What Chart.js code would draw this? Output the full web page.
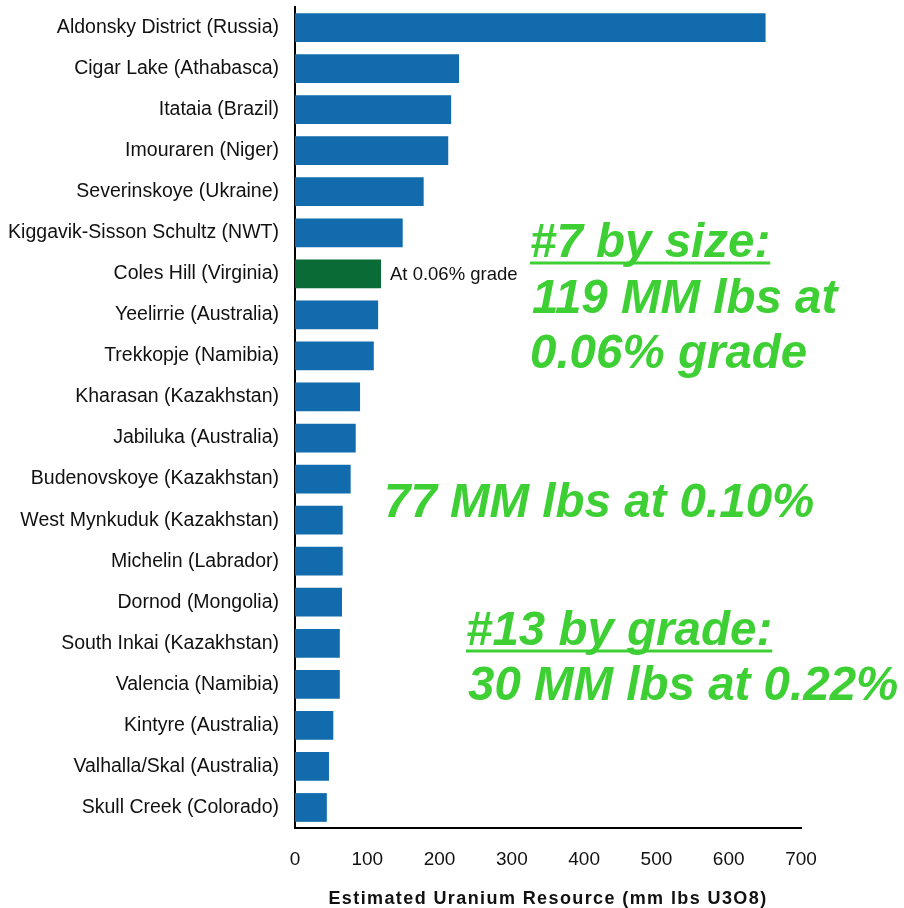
<!DOCTYPE html>
<html>
<head>
<meta charset="utf-8">
<script src="https://cdn.jsdelivr.net/npm/chart.js@4"></script>
<style>
  body { margin: 0; background: #fff; }
  #wrap { width: 904px; height: 908px; }
</style>
</head>
<body>
<div id="wrap"><canvas id="myChart" width="904" height="908"></canvas></div>
<script>
const ctx = document.getElementById('myChart');

// deposits, biggest first
let deposits = [
  "Aldonsky District (Russia)", "Cigar Lake (Athabasca)", "Itataia (Brazil)", "Imouraren (Niger)",
  "Severinskoye (Ukraine)", "Kiggavik-Sisson Schultz (NWT)", "Coles Hill (Virginia)", "Yeelirrie (Australia)",
  "Trekkopje (Namibia)", "Kharasan (Kazakhstan)", "Jabiluka (Australia)", "Budenovskoye (Kazakhstan)",
  "West Mynkuduk (Kazakhstan)", "Michelin (Labrador)", "Dornod (Mongolia)", "South Inkai (Kazakhstan)",
  "Valencia (Namibia)", "Kintyre (Australia)", "Valhalla/Skal (Australia)", "Skull Creek (Colorado)"
];
let resource = [651, 227, 216, 212, 178, 149, 119, 115, 109, 90, 84, 77, 66, 66, 65, 62, 62, 53, 47, 44];
let xTicks = [0, 100, 200, 300, 400, 500, 600, 700];
let highlight = "Coles Hill (Virginia)";
let barLabel = "At 0.06% grade";
let axisTitle = "Estimated Uranium Resource (mm lbs U3O8)";

const BLUE = '#116bac';
const GREEN_BAR = '#0b6b37';
const GREEN_TXT = '#3dcf34';

const barColors = deposits.map(d => d === highlight ? GREEN_BAR : BLUE);

// green call-outs on the right side
const notes = [
  { text: "#7 by size:", x: 530, y: 257, underline: true },
  { text: "119 MM lbs at", x: 532, y: 313 },
  { text: "0.06% grade", x: 530, y: 368 },
  { text: "77 MM lbs at 0.10%", x: 384, y: 517 },
  { text: "#13 by grade:", x: 466, y: 645, underline: true },
  { text: "30 MM lbs at 0.22%", x: 468, y: 700 }
];

const extras = {
  id: 'extras',
  afterDraw(chart) {
    const c = chart.ctx;
    const meta = chart.getDatasetMeta(0);
    const idx = deposits.indexOf(highlight);
    const bar = meta.data[idx];
    c.save();
    c.fillStyle = '#111';
    c.font = '18.5px "Liberation Sans", Arial, sans-serif';
    c.textAlign = 'left';
    c.textBaseline = 'middle';
    c.fillText(barLabel, bar.x + 9, bar.y + 1);

    // axis title, spaced out a bit like the original
    c.font = 'bold 18px "Liberation Sans", Arial, sans-serif';
    c.letterSpacing = '1.4px';
    c.textAlign = 'center';
    c.textBaseline = 'alphabetic';
    const xs = chart.scales.x;
    c.fillText(axisTitle, (xs.left + xs.right) / 2, 904);
    c.letterSpacing = '0px';

    c.fillStyle = GREEN_TXT;
    c.strokeStyle = GREEN_TXT;
    c.font = 'italic bold 47.5px "Liberation Sans", Arial, sans-serif';
    c.textAlign = 'left';
    notes.forEach(n => {
      c.fillText(n.text, n.x, n.y);
      if (n.underline) {
        const w = c.measureText(n.text).width;
        c.lineWidth = 3;
        c.beginPath();
        c.moveTo(n.x, n.y + 6);
        c.lineTo(n.x + w, n.y + 6);
        c.stroke();
      }
    });
    c.restore();
  }
};

new Chart(ctx, {
  type: 'bar',
  data: {
    labels: deposits,
    datasets: [{
      label: 'Resource',
      data: resource,
      backgroundColor: barColors,
      borderWidth: 0,
      categoryPercentage: 0.7,
      barPercentage: 1
    }]
  },
  options: {
    indexAxis: 'y',
    responsive: false,
    animation: false,
    layout: { padding: { top: 7, right: 103, left: 0, bottom: 0 } },
    plugins: {
      legend: { display: false },
      tooltip: { enabled: false }
    },
    scales: {
      x: {
        min: 0,
        max: 700,
        afterBuildTicks: scale => { scale.ticks = xTicks.map(v => ({ value: v })); },
        afterFit: scale => { scale.height = 80; scale.paddingLeft = 0; scale.paddingRight = 0; },
        grid: { display: false, drawTicks: false },
        border: { display: true, color: '#000', width: 2 },
        ticks: {
          padding: 20,
          color: '#111',
          maxRotation: 0,
          font: { family: '"Liberation Sans", Arial, sans-serif', size: 19 }
        }
      },
      y: {
        afterFit: scale => { scale.width = 295; scale.paddingTop = 0; scale.paddingBottom = 0; },
        grid: { display: false, drawTicks: false },
        border: { display: true, color: '#000', width: 2 },
        ticks: {
          padding: 16,
          color: '#111',
          autoSkip: false,
          font: { family: '"Liberation Sans", Arial, sans-serif', size: 19.5 }
        }
      }
    }
  },
  plugins: [extras]
});
</script>
</body>
</html>
